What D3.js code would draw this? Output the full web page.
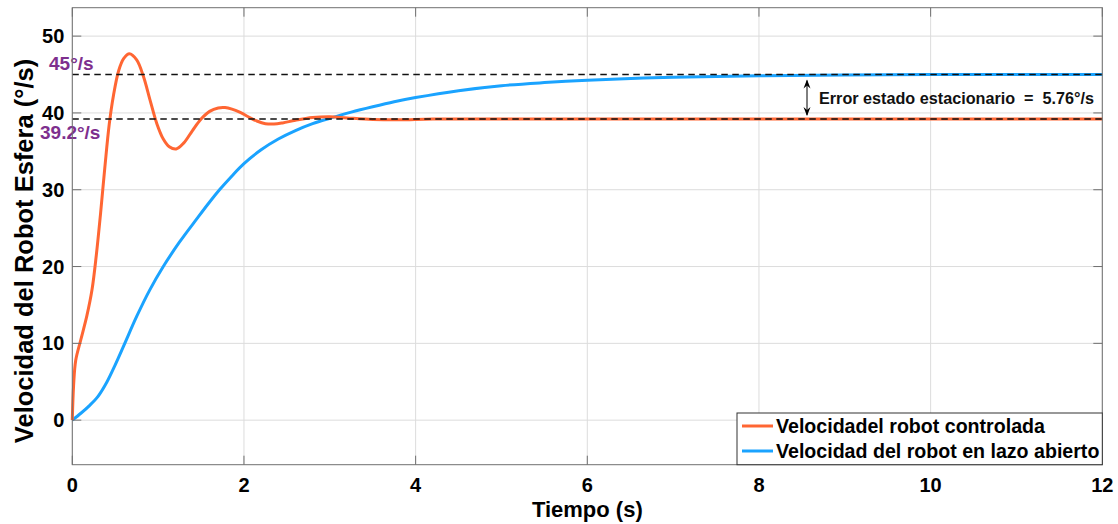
<!DOCTYPE html>
<html>
<head>
<meta charset="utf-8">
<script src="https://cdnjs.cloudflare.com/ajax/libs/d3/7.8.5/d3.min.js"></script>
<style>
html,body{margin:0;padding:0;background:#fff;}
svg{display:block;font-family:"Liberation Sans",Arial,sans-serif;}
</style>
</head>
<body>
<svg id="chart" width="1118" height="524"></svg>
<script>
// ---- data ----
const timeControlled = [0,0.015,0.04,0.1,0.17,0.23,0.28,0.33,0.38,0.43,0.48,0.54,0.6,0.665,0.75,0.83,0.905,0.985,1.06,1.13,1.21,1.3,1.4,1.5,1.6,1.7,1.78,1.86,1.95,2.05,2.15,2.25,2.35,2.45,2.6,2.8,3.0,3.2,3.5,3.8,4.2,5,6,8,10,12];
const speedControlled = [0,4.5,7.8,10.5,13.6,17,21.5,27,33,38.5,42.3,45.5,47.1,47.7,46.9,44.7,41.7,38.6,36.6,35.6,35.3,36.1,37.7,39.2,40.2,40.65,40.7,40.5,40.1,39.5,38.95,38.6,38.55,38.7,39.05,39.4,39.5,39.35,39.15,39.1,39.2,39.2,39.2,39.2,39.2,39.2];
const timeOpen = [0,0.1,0.2,0.3,0.4,0.5,0.6,0.75,0.9,1.06,1.25,1.45,1.6,1.72,1.86,2.0,2.2,2.4,2.6,2.8,3.0,3.25,3.5,3.75,4,4.5,5,5.5,6,7,8,9,10,11,12];
const speedOpen = [0,0.9,1.9,3.1,4.9,7.2,9.7,13.5,16.9,20.0,23.2,26.2,28.4,30.05,31.8,33.4,35.2,36.6,37.7,38.6,39.3,40.1,40.8,41.45,42.0,42.9,43.55,43.95,44.25,44.65,44.85,44.95,45,45,45];
const xTicks = [0,2,4,6,8,10,12];
const yTicks = [0,10,20,30,40,50];
const refLevels = [45, 39.2];
const refLabels = ["45°/s", "39.2°/s"];
const seriesNames = ["Velocidadel robot controlada", "Velocidad del robot en lazo abierto"];
const errorText = "Error estado estacionario  =  5.76°/s";
const xTitle = "Tiempo (s)";
const yTitle = "Velocidad del Robot Esfera (°/s)";

const colors = ["#ff6633", "#1aa3ff"];
const L = 72.3, R = 1102.3, T = 7.7, B = 464.7;

const svg = d3.select("#chart");
const x = d3.scaleLinear().domain([0,12]).range([L,R]);
const y = d3.scaleLinear().domain([-5.8,53.7]).range([B,T]);

// grid
const grid = svg.append("g");
grid.selectAll("line.gx").data(xTicks).join("line")
  .attr("x1",d=>x(d)).attr("x2",d=>x(d)).attr("y1",T).attr("y2",B)
  .attr("stroke","#dcdcdc").attr("stroke-width",1);
grid.selectAll("line.gy").data(yTicks).join("line")
  .attr("x1",L).attr("x2",R).attr("y1",d=>y(d)).attr("y2",d=>y(d))
  .attr("stroke","#dcdcdc").attr("stroke-width",1);

// curves
const line = d3.line().x(d=>x(d[0])).y(d=>y(d[1])).curve(d3.curveCatmullRom.alpha(0.5));
const s1 = timeControlled.map((t,i)=>[t,speedControlled[i]]);
const s2 = timeOpen.map((t,i)=>[t,speedOpen[i]]);
svg.append("path").attr("d",line(s2)).attr("fill","none").attr("stroke",colors[1]).attr("stroke-width",3).attr("stroke-linejoin","round");
svg.append("path").attr("d",line(s1)).attr("fill","none").attr("stroke",colors[0]).attr("stroke-width",3).attr("stroke-linejoin","round");

// dashed reference lines
svg.selectAll("line.ref").data(refLevels).join("line")
  .attr("x1",L).attr("x2",R).attr("y1",d=>y(d)).attr("y2",d=>y(d))
  .attr("stroke","#111").attr("stroke-width",1.5).attr("stroke-dasharray","6.5,4.5");

// purple labels
svg.append("text").attr("x",49).attr("y",70).text(refLabels[0])
  .attr("font-size",19).attr("font-weight","bold").attr("fill","#7e2f8e");
svg.append("text").attr("x",40).attr("y",139).text(refLabels[1])
  .attr("font-size",19).attr("font-weight","bold").attr("fill","#7e2f8e");

// double arrow
const ax = 807;
const ya = y(45)+6, yb = y(39.2)-4;
svg.append("line").attr("x1",ax).attr("x2",ax).attr("y1",ya).attr("y2",yb).attr("stroke","#000").attr("stroke-width",1);
svg.append("path").attr("d",`M${ax},${ya-1} L${ax-3.5},${ya+8} L${ax},${ya+5} L${ax+3.5},${ya+8} Z`).attr("fill","#000");
svg.append("path").attr("d",`M${ax},${yb+1} L${ax-3.5},${yb-8} L${ax},${yb-5} L${ax+3.5},${yb-8} Z`).attr("fill","#000");
svg.append("text").attr("x",819).attr("y",104).text(errorText)
  .attr("font-size",16.2).attr("font-weight","bold").attr("fill","#111").style("white-space","pre").attr("xml:space","preserve");

// axes box & ticks
const axc = "#707070";
svg.append("rect").attr("x",L).attr("y",T).attr("width",R-L).attr("height",B-T)
  .attr("fill","none").attr("stroke",axc).attr("stroke-width",1);
svg.selectAll("line.tyl").data(yTicks).join("line")
  .attr("x1",L).attr("x2",L+9).attr("y1",d=>y(d)).attr("y2",d=>y(d)).attr("stroke",axc);
svg.selectAll("line.tyr").data(yTicks).join("line")
  .attr("x1",R-9).attr("x2",R).attr("y1",d=>y(d)).attr("y2",d=>y(d)).attr("stroke",axc);
svg.selectAll("line.txb").data(xTicks).join("line")
  .attr("x1",d=>x(d)).attr("x2",d=>x(d)).attr("y1",B).attr("y2",B-9).attr("stroke",axc);
svg.selectAll("line.txt").data(xTicks).join("line")
  .attr("x1",d=>x(d)).attr("x2",d=>x(d)).attr("y1",T).attr("y2",T+9).attr("stroke",axc);

// tick labels
svg.selectAll("text.yl").data(yTicks).join("text")
  .attr("x",L-8).attr("y",d=>y(d)+7).attr("text-anchor","end")
  .attr("font-size",20).attr("font-weight","bold").attr("fill","#000").text(d=>d);
svg.selectAll("text.xl").data(xTicks).join("text")
  .attr("x",d=>x(d)).attr("y",492).attr("text-anchor","middle")
  .attr("font-size",20).attr("font-weight","bold").attr("fill","#000").text(d=>d);

// axis titles
svg.append("text").attr("x",(L+R)/2).attr("y",517).attr("text-anchor","middle")
  .attr("font-size",22).attr("font-weight","bold").attr("fill","#000").text(xTitle);
svg.append("text").attr("transform","translate(33,251) rotate(-90)").attr("text-anchor","middle")
  .attr("font-size",25.5).attr("font-weight","bold").attr("fill","#000").text(yTitle);

// legend
const lg = svg.append("g");
lg.append("rect").attr("x",737).attr("y",413).attr("width",R-737).attr("height",B-413)
  .attr("fill","#fff").attr("stroke","#333").attr("stroke-width",1);
seriesNames.forEach((n,i)=>{
  const yy = 426 + i*25;
  lg.append("line").attr("x1",742).attr("x2",773).attr("y1",yy).attr("y2",yy).attr("stroke",colors[i]).attr("stroke-width",3);
  lg.append("text").attr("x",776).attr("y",yy+7).text(n).attr("font-size",19.6).attr("font-weight","bold").attr("fill","#000");
});
</script>
</body>
</html>
